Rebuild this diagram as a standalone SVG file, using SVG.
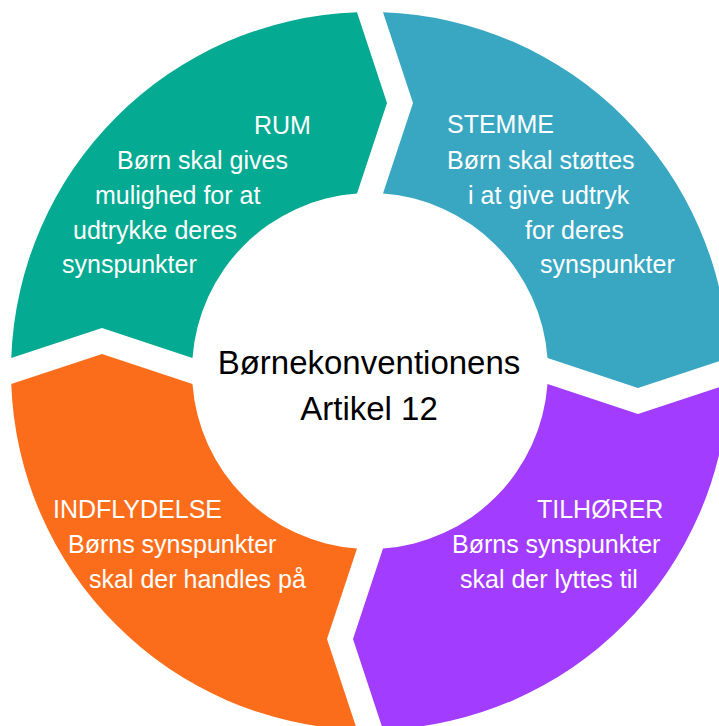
<svg xmlns="http://www.w3.org/2000/svg" width="719" height="726" viewBox="0 0 719 726">
  <style>
    .seg { stroke: none; }
    .lbl { font-family: "Liberation Sans", Arial, sans-serif; font-size: 25px; fill: #ffffff; }
    .ctr { font-family: "Liberation Sans", Arial, sans-serif; font-size: 33px; fill: #000000; text-anchor: middle; }
  </style>
  <rect width="719" height="726" fill="#ffffff"/>
  <g id="rum">
    <path class="seg" fill="#04AA91" d="M 11.24 358 A 359 359 0 0 1 357 12.24 L 387 103 L 357 193.48 A 178 178 0 0 0 192.48 358 L 102 328 Z"/>
    <text class="lbl" x="254" y="134">RUM</text>
    <text class="lbl" x="117" y="169">Børn skal gives</text>
    <text class="lbl" x="95" y="204">mulighed for at</text>
    <text class="lbl" x="73" y="239">udtrykke deres</text>
    <text class="lbl" x="62" y="273">synspunkter</text>
  </g>
  <g id="stemme">
    <path class="seg" fill="#3AA7C2" d="M 383 12.24 A 359 359 0 0 1 728.76 358 L 638 388 L 547.52 358 A 178 178 0 0 0 383 193.48 L 413 103 Z"/>
    <text class="lbl" x="447" y="133">STEMME</text>
    <text class="lbl" x="447" y="169">Børn skal støttes</text>
    <text class="lbl" x="468" y="204">i at give udtryk</text>
    <text class="lbl" x="525" y="239">for deres</text>
    <text class="lbl" x="540" y="273">synspunkter</text>
  </g>
  <g id="tilhoerer">
    <path class="seg" fill="#A23CFF" d="M 728.76 384 A 359 359 0 0 1 383 729.76 L 353 639 L 383 548.52 A 178 178 0 0 0 547.52 384 L 638 414 Z"/>
    <text class="lbl" x="537" y="518">TILHØRER</text>
    <text class="lbl" x="452" y="553">Børns synspunkter</text>
    <text class="lbl" x="460" y="588">skal der lyttes til</text>
  </g>
  <g id="indflydelse">
    <path class="seg" fill="#FC6D1B" d="M 357 729.76 A 359 359 0 0 1 11.24 384 L 102 354 L 192.48 384 A 178 178 0 0 0 357 548.52 L 327 639 Z"/>
    <text class="lbl" x="53" y="518">INDFLYDELSE</text>
    <text class="lbl" x="68" y="553">Børns synspunkter</text>
    <text class="lbl" x="89" y="588">skal der handles på</text>
  </g>
  <g id="center">
    <text class="ctr" x="369" y="374">Børnekonventionens</text>
    <text class="ctr" x="369" y="420">Artikel 12</text>
  </g>
  <g id="connectors"/>
</svg>
